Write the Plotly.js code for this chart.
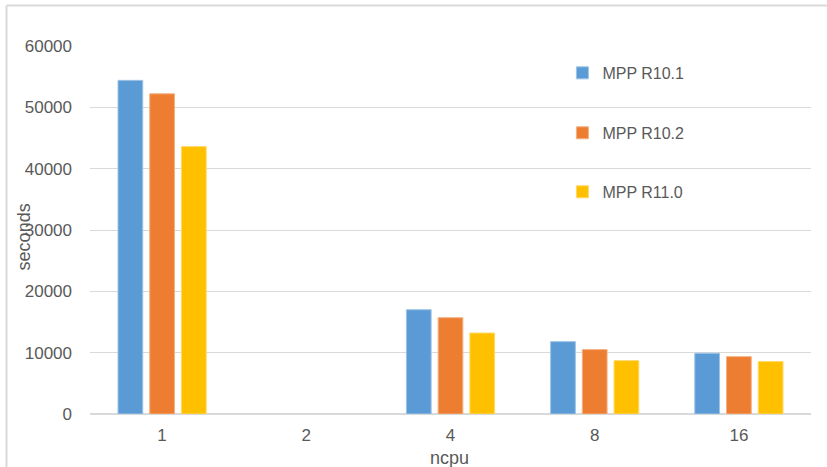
<!DOCTYPE html>
<html>
<head>
<meta charset="utf-8">
<script src="https://cdn.plot.ly/plotly-3.0.1.min.js"></script>
<style>
  html, body { margin: 0; padding: 0; background: #ffffff; }
  #chart { width: 827px; height: 467px; }
</style>
</head>
<body>
<div id="chart"></div>
<script>
// Run time (seconds) per CPU count for three MPP releases
const ncpu = ["1", "2", "4", "8", "16"];
const mppR101 = [54400, null, 17000, 11800, 9900];
const mppR102 = [52200, null, 15700, 10500, 9350];
const mppR110 = [43600, null, 13200, 8700, 8550];

const seriesNames = ["MPP R10.1", "MPP R10.2", "MPP R11.0"];
const seriesColors = ["#5B9BD5", "#ED7D31", "#FFC000"];
const seriesEdges = ["#9cc3e6", "#f4b183", "#ffd966"];

const textColor = "#595959";
const gridColor = "#d9d9d9";
const fontFamily = "Liberation Sans, Arial, sans-serif";
const baseFont = { family: fontFamily, size: 16, color: textColor };
const tickFont = { family: fontFamily, size: 17, color: textColor };
const titleFont = { family: fontFamily, size: 18, color: textColor };

const values = [mppR101, mppR102, mppR110];
const legendIds = ["legend", "legend2", "legend3"];

const traces = values.map((v, i) => ({
  type: "bar",
  name: seriesNames[i],
  x: ncpu,
  y: v,
  marker: { color: seriesColors[i], line: { color: seriesEdges[i], width: 1 } },
  legend: legendIds[i],
  hoverinfo: "x+y+name"
}));

function legendAt(y) {
  return {
    x: 0.6552, y: y, xanchor: "left", yanchor: "middle",
    bgcolor: "rgba(0,0,0,0)", borderwidth: 0,
    font: baseFont, itemclick: false, itemdoubleclick: false
  };
}

const layout = {
  width: 827,
  height: 467,
  margin: { l: 90, r: 16, t: 46, b: 53 },
  paper_bgcolor: "#ffffff",
  plot_bgcolor: "#ffffff",
  font: baseFont,
  barmode: "group",
  bargap: 0.34,
  bargroupgap: 0.22,
  showlegend: true,
  legend: legendAt(0.9267),
  legend2: legendAt(0.7639),
  legend3: legendAt(0.6035),
  xaxis: {
    type: "category",
    categoryorder: "array",
    categoryarray: ncpu,
    showgrid: false,
    showline: false,
    zeroline: false,
    ticks: "",
    ticklabelstandoff: 9,
    tickfont: tickFont
  },
  yaxis: {
    range: [0, 60000],
    dtick: 10000,
    tick0: 0,
    showgrid: true,
    gridcolor: gridColor,
    gridwidth: 1,
    zeroline: true,
    zerolinecolor: gridColor,
    zerolinewidth: 1.5,
    showline: false,
    ticks: "",
    ticklabelstandoff: 17,
    tickformat: "d",
    tickfont: tickFont
  },
  annotations: [
    {
      text: "seconds", textangle: -90,
      xref: "paper", yref: "paper", x: -0.0915, y: 0.48,
      xanchor: "center", yanchor: "middle", showarrow: false,
      font: titleFont
    },
    {
      text: "ncpu",
      xref: "paper", yref: "paper", x: 0.4986, y: -0.1195,
      xanchor: "center", yanchor: "middle", showarrow: false,
      font: titleFont
    }
  ],
  shapes: [
    // chart frame (top and left edges)
    { type: "line", xref: "paper", yref: "paper", x0: -0.1158, x1: 1.03, y0: 1.1099, y1: 1.1099,
      line: { color: gridColor, width: 2 } },
    { type: "line", xref: "paper", yref: "paper", x0: -0.1158, x1: -0.1158, y0: 1.1099, y1: -0.15,
      line: { color: gridColor, width: 2 } }
  ]
};

Plotly.newPlot("chart", traces, layout, { displayModeBar: false, staticPlot: true });
</script>
</body>
</html>
